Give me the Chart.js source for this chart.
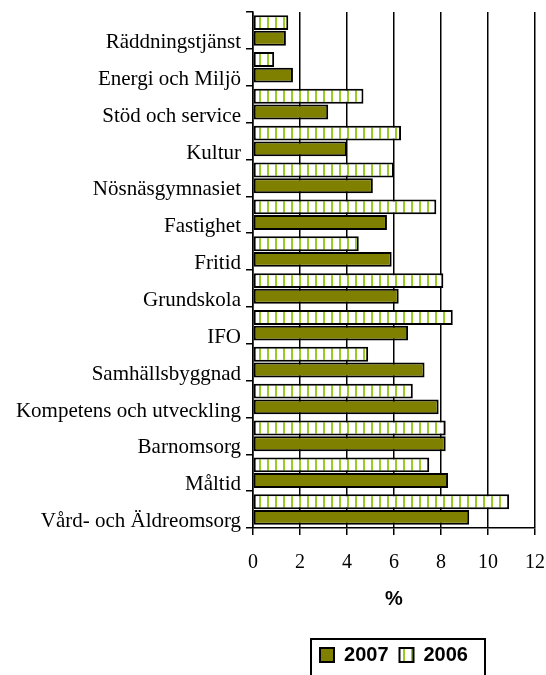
<!DOCTYPE html>
<html>
<head>
<meta charset="utf-8">
<script src="https://cdn.jsdelivr.net/npm/chart.js@4.4.0/dist/chart.umd.min.js"></script>
<style>
  html, body { margin: 0; padding: 0; background: #fff; }
  #wrap { width: 546px; height: 675px; }
</style>
</head>
<body>
<div id="wrap"><canvas id="c" width="546" height="675"></canvas></div>
<script>
// data
const categories = ['Räddningstjänst', 'Energi och Miljö', 'Stöd och service', 'Kultur',
  'Nösnäsgymnasiet', 'Fastighet', 'Fritid', 'Grundskola', 'IFO', 'Samhällsbyggnad',
  'Kompetens och utveckling', 'Barnomsorg', 'Måltid', 'Vård- och Äldreomsorg'];
const values2007 = [1.4, 1.7, 3.2, 4.0, 5.1, 5.7, 5.9, 6.2, 6.6, 7.3, 7.9, 8.2, 8.3, 9.2];
const values2006 = [1.5, 0.9, 4.7, 6.3, 6.0, 7.8, 4.5, 8.1, 8.5, 4.9, 6.8, 8.2, 7.5, 10.9];
const xTicks = [0, 2, 4, 6, 8, 10, 12];

// striped fill for 2006
function stripes() {
  const p = document.createElement('canvas');
  p.width = 8; p.height = 8;
  const g = p.getContext('2d');
  g.fillStyle = '#ffffff';
  g.fillRect(0, 0, 8, 8);
  g.fillStyle = '#99cc22';
  g.fillRect(3, 0, 2, 8);
  return g.createPattern(p, 'repeat');
}

const legendBox = {
  id: 'legendBox',
  afterDraw(chart) {
    const hb = chart.legend.legendHitBoxes;
    if (!hb || !hb.length) return;
    const ctx = chart.ctx;
    const l = hb[0].left - 9;
    const r = hb[hb.length - 1].left + hb[hb.length - 1].width + 17;
    const t = hb[0].top - 6;
    ctx.save();
    ctx.strokeStyle = '#000';
    ctx.lineWidth = 2;
    ctx.strokeRect(l, t, r - l, chart.height - t + 10);
    ctx.restore();
  }
};

new Chart(document.getElementById('c'), {
  type: 'bar',
  data: {
    labels: categories,
    datasets: [
      { label: '2006', data: values2006, backgroundColor: stripes(), borderColor: '#000', borderWidth: 2,
        borderSkipped: false, barPercentage: 0.95, categoryPercentage: 0.85 },
      { label: '2007', data: values2007, backgroundColor: '#808000', borderColor: '#000', borderWidth: 2,
        borderSkipped: false, barPercentage: 0.95, categoryPercentage: 0.85 }
    ]
  },
  options: {
    indexAxis: 'y',
    responsive: false,
    animation: false,
    layout: { padding: { top: 12, right: 11, left: 0, bottom: 0 } },
    plugins: {
      tooltip: { enabled: false },
      legend: {
        position: 'bottom',
        fullSize: false,
        reverse: true,
        labels: {
          color: '#000',
          font: { family: 'Liberation Sans', size: 20, weight: 'bold' },
          boxWidth: 14, boxHeight: 14, padding: 11
        }
      }
    },
    scales: {
      x: {
        min: 0, max: 12,
        afterBuildTicks: s => { s.ticks = xTicks.map(v => ({ value: v })); },
        afterFit: s => { s.height = 106; s.paddingLeft = 0; s.paddingRight = 0; },
        border: { color: '#000', width: 1.5 },
        grid: { color: '#000', lineWidth: 1.5, tickLength: 7 },
        ticks: { color: '#000', padding: 16, font: { family: 'Liberation Serif', size: 20 } },
        title: { display: true, text: '%', color: '#000', padding: { top: 4, bottom: 23 },
          font: { family: 'Liberation Sans', size: 20, weight: 'bold' } }
      },
      y: {
        afterFit: s => { s.width = 253; s.paddingTop = 0; s.paddingBottom = 0; },
        border: { color: '#000', width: 1.5 },
        grid: { drawOnChartArea: false, color: '#000', lineWidth: 1.5, tickLength: 7 },
        ticks: { color: '#000', padding: 5, labelOffset: 12, autoSkip: false,
          font: { family: 'Liberation Serif', size: 21 } }
      }
    }
  },
  plugins: [legendBox]
});
</script>
</body>
</html>
